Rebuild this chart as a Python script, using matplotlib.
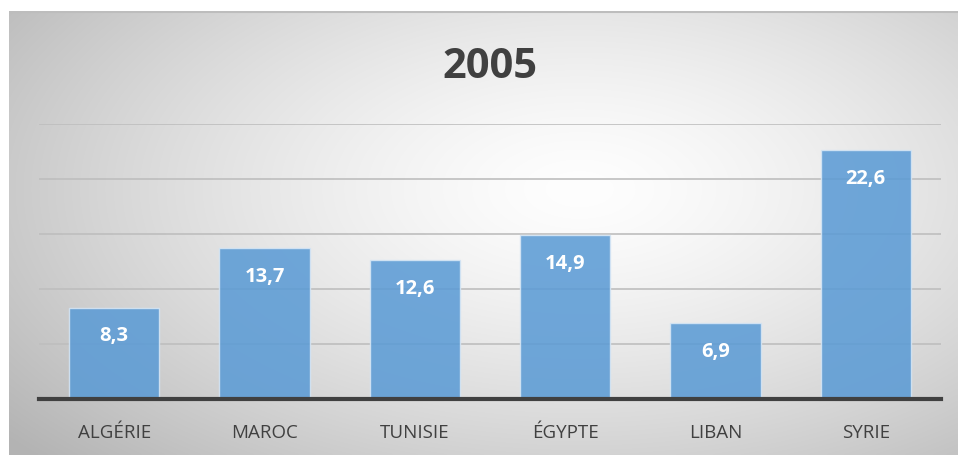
import numpy as np
import matplotlib
matplotlib.use('Agg')
import matplotlib.pyplot as plt

# données
pays = ['ALGÉRIE', 'MAROC', 'TUNISIE', 'ÉGYPTE', 'LIBAN', 'SYRIE']
valeurs = [8.3, 13.7, 12.6, 14.9, 6.9, 22.6]
titre = '2005'
grille = [5, 10, 15, 20, 25]

plt.rcParams['font.family'] = ['Open Sans', 'DejaVu Sans']

W, H = 958, 456
fig = plt.figure(figsize=(W / 100, H / 100), dpi=100)
fig.patch.set_facecolor('white')

# fond : dégradé radial (blanc au centre, gris sur les bords)
bg = fig.add_axes([9 / W, 0, 1 - 9 / W, 1 - 12 / H], zorder=0)
xs = np.linspace(9, 958, 400)
ys = np.linspace(12, 456, 200)
X, Y = np.meshgrid(xs, ys)
d = np.sqrt(((X - 580) / 620) ** 2 + ((Y - 190) / 330) ** 2)
g = 254 - 58 * np.clip(d, 0, 1.2) ** 1.4
img = np.dstack([g, g, g]) / 255
bg.imshow(img, extent=[9, 958, 456, 12], aspect='auto', interpolation='bilinear')
bg.set_xlim(9, 958)
bg.set_ylim(456, 12)
bg.axhline(12.5, color='#BDBDBD', lw=1.5)
bg.axis('off')

ax = fig.add_axes([39 / W, 1 - 400 / H, (941 - 39) / W, (400 - 125) / H], zorder=1)
ax.patch.set_alpha(0)

x = np.arange(len(pays))
for gy in grille:
    ax.axhline(gy, color='#BEBEBE', lw=1.2, zorder=1)
barres = ax.bar(x, valeurs, width=0.6, color='#5B9BD5', alpha=0.87,
                edgecolor='#D6E6F5', linewidth=1, zorder=2)

for xi, v in zip(x, valeurs):
    ax.annotate(f'{v:.1f}'.replace('.', ','), (xi, v), xytext=(0, -20),
                textcoords='offset points', ha='center', va='center',
                color='white', fontsize=14.5, fontweight='bold', zorder=3)

ax.set_xlim(-0.5, len(pays) - 0.5)
ax.set_ylim(0, 25)
ax.set_yticks([])
ax.set_xticks(x)
ax.set_xticklabels(pays, fontsize=13.5, color='#404040')
ax.tick_params(axis='x', length=0, pad=17)
for s in ['top', 'left', 'right']:
    ax.spines[s].set_visible(False)
ax.spines['bottom'].set_color('#404040')
ax.spines['bottom'].set_linewidth(3)
ax.spines['bottom'].set_zorder(4)

fig.text(490 / W, 1 - 67 / H, titre, ha='center', va='center',
         fontsize=30, fontweight='bold', color='#404040')

fig.savefig('out.png', dpi=100)
